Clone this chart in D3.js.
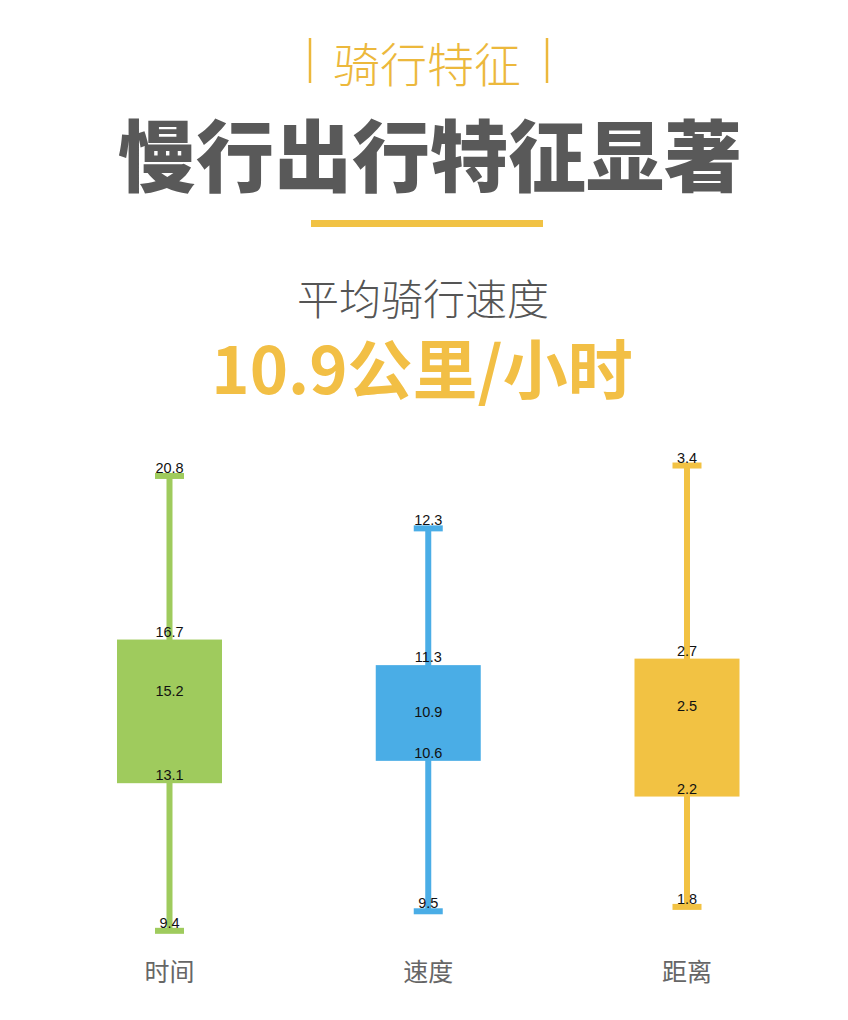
<!DOCTYPE html>
<html>
<head>
<meta charset="utf-8">
<script src="https://cdn.jsdelivr.net/npm/d3@7"></script>
<style>
    body{ margin:0; background:#fff; }
    svg text{ font-family:"Noto Sans CJK SC", "Noto Sans", sans-serif; }
    .val{ font-family:"Liberation Sans", Arial, sans-serif; font-size:14.5px; fill:#111; }
</style>
</head>
<body>
<div id="chart"></div>
<script>
// data
const categories = ['时间', '速度', '距离'];
const colors = ['#9fcb5d', '#4aade6', '#f2c243'];
// five-number summaries: min, q1, median, q3, max
const stats = [
    [9.4, 13.1, 15.2, 16.7, 20.8],
    [9.5, 10.6, 10.9, 11.3, 12.3],
    [1.8, 2.2, 2.5, 2.7, 3.4]
];
// each box has its own value axis
const extents = [
    [9.17, 21.2],
    [9.29, 12.8],
    [1.68, 3.42]
];

const width = 848, height = 1020;
const cx = 427;

const svg = d3.select('#chart').append('svg')
    .attr('width', width)
    .attr('height', height);

// header
const head = svg.append('g').classed('head', true);
head.append('text')
    .attr('x', cx).attr('y', 61)
    .attr('text-anchor', 'middle').attr('dominant-baseline', 'central')
    .attr('font-size', 47).attr('font-weight', 300)
    .attr('fill', '#ecb83c')
    .text('骑行特征');
[-117, 120].forEach(dx => {
    head.append('line')
        .attr('x1', cx + dx).attr('x2', cx + dx)
        .attr('y1', 38).attr('y2', 83)
        .attr('stroke', '#ecb83c').attr('stroke-width', 2.5);
});
head.append('text')
    .attr('x', cx + 3).attr('y', 152)
    .attr('text-anchor', 'middle').attr('dominant-baseline', 'central')
    .attr('font-size', 78).attr('font-weight', 900)
    .attr('fill', '#595959')
    .text('慢行出行特征显著');
head.append('rect')
    .attr('x', 311).attr('y', 220)
    .attr('width', 232).attr('height', 7)
    .attr('fill', '#f1c244');
head.append('text')
    .attr('x', cx - 4).attr('y', 296)
    .attr('text-anchor', 'middle').attr('dominant-baseline', 'central')
    .attr('font-size', 42).attr('font-weight', 300)
    .attr('fill', '#555')
    .text('平均骑行速度');
head.append('text')
    .attr('x', cx - 5).attr('y', 366)
    .attr('text-anchor', 'middle').attr('dominant-baseline', 'central')
    .attr('font-size', 65).attr('font-weight', 700)
    .attr('font-family', '"Liberation Sans", "Noto Sans CJK SC", sans-serif')
    .attr('fill', '#f2bf45')
    .text('10.9公里/小时');

// boxes
const x = d3.scalePoint()
    .domain(categories)
    .range([169.5, 687]);

const boxW = 105, capW = 29;

const boxes = svg.append('g').classed('boxes', true)
    .selectAll('g.box')
    .data(categories.map((c, i) => ({cat: c, s: stats[i], color: colors[i],
        y: d3.scaleLinear().domain(extents[i]).range([940, 460])})))
    .join('g')
    .classed('box', true)
    .attr('transform', d => `translate(${x(d.cat)},0)`);

// whisker
boxes.append('line')
    .attr('y1', d => d.y(d.s[0])).attr('y2', d => d.y(d.s[4]))
    .attr('stroke', d => d.color).attr('stroke-width', 6);
// caps
boxes.selectAll('rect.cap')
    .data(d => [d.s[0], d.s[4]].map(v => ({v, d})))
    .join('rect')
    .classed('cap', true)
    .attr('x', -capW / 2)
    .attr('y', o => o.d.y(o.v) - 3)
    .attr('width', capW).attr('height', 6)
    .attr('fill', o => o.d.color);
// box
boxes.append('rect')
    .attr('x', -boxW / 2)
    .attr('y', d => d.y(d.s[3]))
    .attr('width', boxW)
    .attr('height', d => d.y(d.s[1]) - d.y(d.s[3]))
    .attr('fill', d => d.color);
// value labels
boxes.selectAll('text.val')
    .data(d => d.s.map(v => ({v, d})))
    .join('text')
    .classed('val', true)
    .attr('text-anchor', 'middle')
    .attr('y', o => o.d.y(o.v) - 3)
    .text(o => o.v.toFixed(1));
// category label
boxes.append('text')
    .attr('y', 970)
    .attr('text-anchor', 'middle').attr('dominant-baseline', 'central')
    .attr('font-size', 25)
    .attr('fill', '#666')
    .text(d => d.cat);
</script>
</body>
</html>
